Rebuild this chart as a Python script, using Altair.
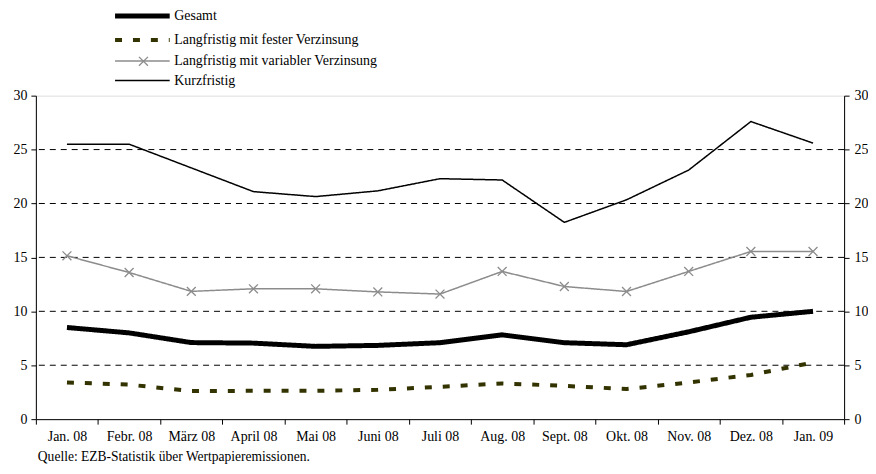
import altair as alt
import pandas as pd

months = ["Jan. 08", "Febr. 08", "März 08", "April 08", "Mai 08", "Juni 08", "Juli 08",
          "Aug. 08", "Sept. 08", "Okt. 08", "Nov. 08", "Dez. 08", "Jan. 09"]
series = ["Gesamt", "Langfristig mit fester Verzinsung",
          "Langfristig mit variabler Verzinsung", "Kurzfristig"]
gesamt = [8.5, 8.0, 7.1, 7.05, 6.75, 6.84, 7.09, 7.82, 7.09, 6.9, 8.1, 9.45, 10.0]
fest = [3.4, 3.2, 2.6, 2.63, 2.63, 2.72, 3.0, 3.31, 3.09, 2.79, 3.4, 4.1, 5.25]
variabel = [15.15, 13.6, 11.85, 12.09, 12.09, 11.8, 11.6, 13.7, 12.3, 11.84, 13.7, 15.55, 15.55]
kurz = [25.5, 25.5, 23.3, 21.1, 20.64, 21.17, 22.3, 22.18, 18.25, 20.34, 23.1, 27.6, 25.6]
grid_values = [5, 10, 15, 20, 25]
y_ticks = [0, 5, 10, 15, 20, 25, 30]
source_text = "Quelle: EZB-Statistik über Wertpapieremissionen."

rows = []
for name, vals in zip(series, [gesamt, fest, variabel, kurz]):
    for m, v in zip(months, vals):
        rows.append({"Monat": m, "Serie": name, "Wert": v})
df = pd.DataFrame(rows)
df_var = df[df["Serie"] == series[2]]
df_grid = pd.DataFrame({"g": grid_values})

FONT = "'Liberation Serif', 'Times New Roman', Times, serif"
GRAY = "#8c8c8c"
line_path = "M-3,0H3"
x_path = "M-1,-1L1,1M-1,1L1,-1"

legend = alt.Legend(
    title=None, orient="none", legendX=95, legendY=-92,
    symbolType=line_path, symbolSize=335, labelOffset=20,
    labelFont=FONT, labelFontSize=14, labelColor="black", labelLimit=400,
    rowPadding=2.6, padding=0,
)

cross_legend = alt.Legend(
    title=None, orient="none", legendX=102.6, legendY=-40,
    symbolSize=81, symbolStrokeColor=GRAY, symbolFillColor="transparent",
    symbolStrokeWidth=1.3, labelExpr="''", padding=0,
)

xenc = alt.X("Monat:N", sort=months, title=None,
             scale=alt.Scale(type="band", paddingInner=0, paddingOuter=0),
             bandPosition=0.5,
             axis=alt.Axis(tickBand="extent", labelAngle=0, labelFont=FONT, labelFontSize=14,
                           labelColor="black", domainColor="black", tickColor="black",
                           tickSize=5, labelPadding=5, grid=False))
yscale = alt.Scale(domain=[0, 30], nice=False, zero=True)

grid = alt.Chart(df_grid).mark_rule(color="black", strokeWidth=1, strokeDash=[6, 5]).encode(
    y=alt.Y("g:Q", scale=yscale, axis=None)
)

lines = alt.Chart(df).mark_line(strokeJoin="round").encode(
    x=xenc,
    y=alt.Y("Wert:Q", scale=yscale, title=None,
            axis=alt.Axis(orient="left", values=y_ticks, grid=False, labelFont=FONT, labelFontSize=14,
                          labelColor="black", domainColor="black", tickColor="black",
                          tickSize=5, labelPadding=4)),
    color=alt.Color("Serie:N", sort=series,
                    scale=alt.Scale(domain=series, range=["black", "#333300", GRAY, "black"]),
                    legend=legend),
    strokeDash=alt.StrokeDash("Serie:N", sort=series,
                              scale=alt.Scale(domain=series, range=[[1, 0], [7, 11], [1, 0], [1, 0]]),
                              legend=legend),
    strokeWidth=alt.StrokeWidth("Serie:N", sort=series,
                                scale=alt.Scale(type="ordinal", domain=series, range=[5, 4, 1.5, 1.5]),
                                legend=legend),
)

points = alt.Chart(df_var).mark_point(size=80, color=GRAY, strokeWidth=1.3,
                                      filled=False, opacity=1).encode(
    x=xenc,
    y=alt.Y("Wert:Q", scale=yscale, title=None,
            axis=alt.Axis(orient="right", values=y_ticks, grid=False, labelFont=FONT, labelFontSize=14,
                          labelColor="black", domainColor="black", tickColor="black",
                          tickSize=5, labelPadding=5)),
    shape=alt.Shape("Serie:N", scale=alt.Scale(domain=[series[2]], range=[x_path]),
                    legend=cross_legend),
)

chart = alt.layer(grid, lines, points).resolve_axis(y="independent").properties(
    width=812, height=325,
    autosize=alt.AutoSizeParams(type="none"),
    padding={"left": 28, "top": 87, "right": 24, "bottom": 46},
    title=alt.TitleParams(source_text, orient="bottom", anchor="start", frame="group", font=FONT,
                          fontSize=13.6, fontWeight="normal", color="black", baseline="top",
                          offset=7, dx=2),
).configure_view(stroke="#808080", strokeWidth=1).configure(background="white")

chart.save("out.html", embed_options={"renderer": "svg", "actions": False})
